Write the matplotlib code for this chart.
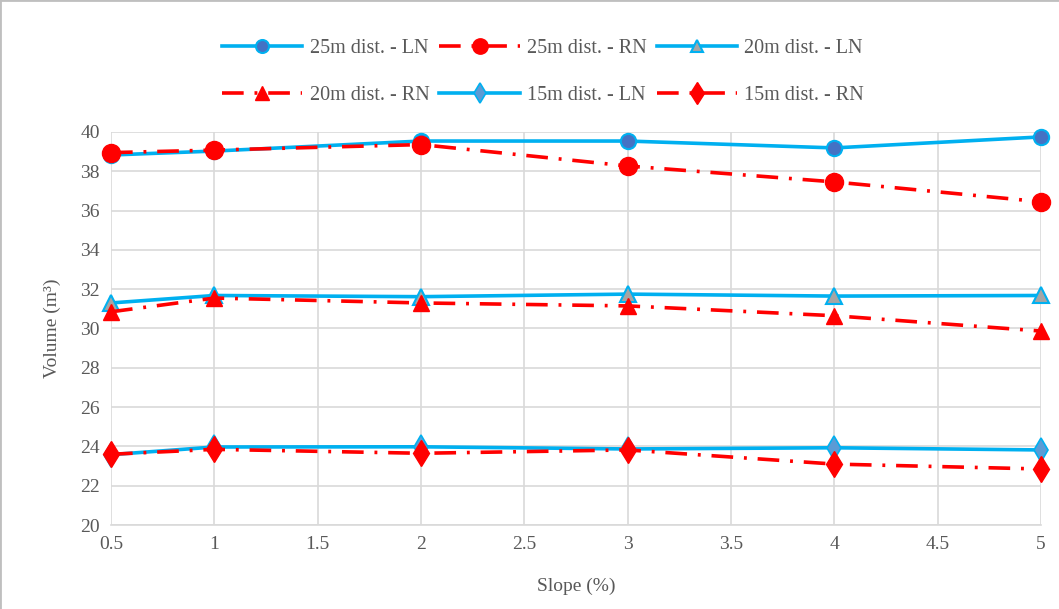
import matplotlib
matplotlib.use("Agg")
import matplotlib.pyplot as plt
from matplotlib.lines import Line2D

slope = [0.5, 1, 2, 3, 4, 5]
ln25 = [38.83, 39.03, 39.54, 39.54, 39.19, 39.75]
rn25 = [38.95, 39.08, 39.36, 38.27, 37.46, 36.45]
ln20 = [31.3, 31.68, 31.62, 31.75, 31.65, 31.68]
rn20 = [30.85, 31.55, 31.3, 31.15, 30.65, 29.87]
ln15 = [23.58, 23.97, 23.98, 23.87, 23.93, 23.82]
rn15 = [23.6, 23.85, 23.65, 23.82, 23.1, 22.85]
labels = ["25m dist. - LN", "25m dist. - RN", "20m dist. - LN",
          "20m dist. - RN", "15m dist. - LN", "15m dist. - RN"]

plt.rcParams['font.family'] = ['Liberation Serif', 'DejaVu Serif']
txt = '#595959'
blue = '#00B0F0'
red = '#FF0000'

fig = plt.figure(figsize=(10.59, 6.09), dpi=100)
ax = fig.add_axes([111/1059, 1-525/609, (1041-111)/1059, (525-132)/609])

dashdot = (0, (6, 3, 0.8, 3))
lw = 2.6
h = {}
common = dict(clip_on=False)
h[0], = ax.plot(slope, ln25, color=blue, lw=lw, marker='o', ms=11, mfc='#4472C4', mec=blue, mew=1.5, label=labels[0], zorder=3, **common)
h[1], = ax.plot(slope, rn25, color=red, lw=lw, ls=dashdot, marker='o', ms=13, mfc=red, mec=red, label=labels[1], zorder=4, **common)
h[2], = ax.plot(slope, ln20, color=blue, lw=lw, marker='^', ms=11, mfc='#A5A5A5', mec=blue, mew=1.5, label=labels[2], zorder=3, **common)
h[3], = ax.plot(slope, rn20, color=red, lw=lw, ls=dashdot, marker='^', ms=12, mfc=red, mec=red, label=labels[3], zorder=4, **common)
h[4], = ax.plot(slope, ln15, color=blue, lw=lw, marker='d', ms=12, mfc='#5B9BD5', mec=blue, mew=1.2, label=labels[4], zorder=3, **common)
h[5], = ax.plot(slope, rn15, color=red, lw=lw, ls=dashdot, marker='d', ms=13, mfc=red, mec=red, label=labels[5], zorder=4, **common)

ax.set_xlim(0.5, 5)
ax.set_ylim(20, 40)
ax.set_xticks([0.5, 1, 1.5, 2, 2.5, 3, 3.5, 4, 4.5, 5])
ax.set_xticklabels(['0.5', '1', '1.5', '2', '2.5', '3', '3.5', '4', '4.5', '5'])
ax.set_yticks(range(20, 41, 2))
ax.grid(True, color='#D9D9D9', lw=1.2)
ax.set_axisbelow(True)
for s in ['top', 'right', 'left']:
    ax.spines[s].set_visible(False)
ax.spines['bottom'].set_color('#D9D9D9')
ax.spines['bottom'].set_linewidth(1.2)
ax.tick_params(length=0, labelsize=14, colors=txt, pad=8)
for lab in ax.get_xticklabels() + ax.get_yticklabels():
    lab.set_color(txt)
ax.set_xlabel('Slope (%)', fontsize=14, color=txt, labelpad=18)
ax.set_ylabel('Volume (m³)', fontsize=14, color=txt, labelpad=14)

order = [0, 3, 1, 4, 2, 5]
leg = fig.legend([h[i] for i in order], [labels[i] for i in order], ncol=3,
                 loc='center', bbox_to_anchor=(543/1059, 1-72/609), frameon=False,
                 fontsize=14.5, handlelength=4.0, columnspacing=0.5, handletextpad=0.35,
                 labelspacing=1.35, markerscale=0.85)
for t in leg.get_texts():
    t.set_color(txt)

fig.add_artist(Line2D([0, 0], [0, 1], transform=fig.transFigure, color='#BFBFBF', lw=2))
fig.add_artist(Line2D([0, 1], [1, 1], transform=fig.transFigure, color='#BFBFBF', lw=2))
fig.savefig('out.png', dpi=100)
